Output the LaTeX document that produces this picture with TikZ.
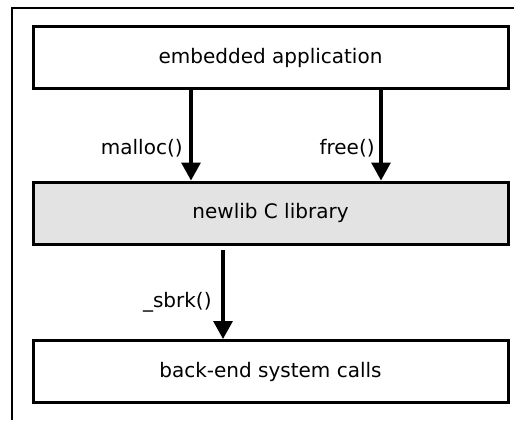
\documentclass[tikz,border=0pt]{standalone}
\usepackage{fontspec}
\setmainfont{DejaVu Sans}
\usetikzlibrary{arrows.meta}
\tikzset{layer/.style={draw,line width=1.5pt,minimum width=237.5pt,minimum height=31pt,font=\fontsize{10}{12}\selectfont},
         call/.style={font=\fontsize{10}{12}\selectfont,anchor=east,inner sep=1pt}}

\begin{document}
\begin{tikzpicture}[x=0.5pt,y=-0.5pt,>={Triangle[width=9.5pt,length=9pt]}]
          \useasboundingbox (0, 0) rectangle (514, 420);
          \draw[line width=1.2pt] (12, 420) coordinate (fl) -- (12, 8) coordinate (ft) -- (514, 8);
          \node[layer] (app) at (270.5, 57.5) {embedded application};
          \node[layer,fill=gray!22] (lib) at (270.5, 213) {newlib C library};
          \node[layer] (sys) at (270.5, 371.5) {back-end system calls};
          \coordinate (xm) at (191, 0);
          \coordinate (xf) at (381, 0);
          \coordinate (xs) at (223, 0);
          \draw[line width=1.6pt,->] (app.south -| xm) -- (lib.north -| xm);
          \draw[line width=1.6pt,->] (app.south -| xf) -- (lib.north -| xf);
          \draw[line width=1.6pt,->] ([yshift=-2pt]lib.south -| xs) -- (sys.north -| xs);
          \node[call] (malloc) at (185, 148) {malloc()};
          \node[call] (free) at (377, 148) {free()};
          \node[call] (sbrk) at (214, 302) {\_sbrk()};
        \end{tikzpicture}
\end{document}
